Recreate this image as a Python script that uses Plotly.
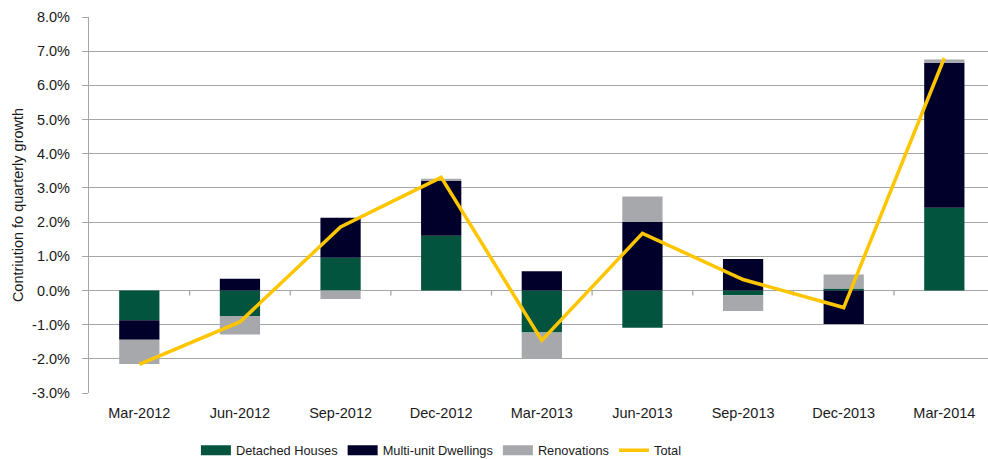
import plotly.graph_objects as go

categories = ["Mar-2012", "Jun-2012", "Sep-2012", "Dec-2012", "Mar-2013",
              "Jun-2013", "Sep-2013", "Dec-2013", "Mar-2014"]
detached = [-0.87, -0.75, 0.96, 1.60, -1.23, -1.09, -0.14, 0.06, 2.42]
multi_unit = [-0.57, 0.34, 1.17, 1.60, 0.56, 2.00, 0.92, -0.98, 4.24]
renovations = [-0.71, -0.54, -0.25, 0.07, -0.77, 0.75, -0.46, 0.41, 0.10]
total = [-2.16, -0.92, 1.86, 3.31, -1.46, 1.67, 0.32, -0.50, 6.80]
y_ticks = [-3, -2, -1, 0, 1, 2, 3, 4, 5, 6, 7, 8]

C_DET = "#03543F"
C_MULTI = "#00002A"
C_REN = "#A7A8AB"
C_TOT = "#FFC600"
GRID = "#A6A6A6"
FONT = "Liberation Sans, Arial, sans-serif"

fig = go.Figure()
for name, vals, col in [("Detached Houses", detached, C_DET),
                        ("Multi-unit Dwellings", multi_unit, C_MULTI),
                        ("Renovations", renovations, C_REN)]:
    fig.add_trace(go.Bar(x=categories, y=vals, name=name, marker_color=col,
                         marker_line_width=0, showlegend=False))
    # legend-only swatch (wide rectangle like the original)
    fig.add_trace(go.Scatter(x=[None], y=[None], mode="lines", name=name,
                             line=dict(color=col, width=10), showlegend=True))

fig.add_trace(go.Scatter(x=categories, y=total, name="Total", mode="lines",
                         line=dict(color=C_TOT, width=3.5)))

# small tick marks on the zero line between categories
for i in range(len(categories) - 1):
    fig.add_shape(type="line", xref="x", yref="y", x0=i + 0.5, x1=i + 0.5,
                  y0=0, y1=-0.15, line=dict(color=GRID, width=1.3), layer="below")

fig.update_layout(
    width=988, height=459,
    margin=dict(l=89, r=0, t=17, b=66, autoexpand=False),
    paper_bgcolor="white", plot_bgcolor="white",
    barmode="relative", bargap=0.6,
    font=dict(family=FONT, size=14, color="#1a1a1a"),
    legend=dict(orientation="h", x=0.392, xanchor="center", y=-0.153,
                yanchor="middle", font=dict(size=12.8),
                traceorder="normal", itemwidth=30, bgcolor="rgba(0,0,0,0)"),
    xaxis=dict(range=[-0.5, 8.434], showgrid=False, showline=False,
               ticks="", tickfont=dict(size=14.5), ticklabelstandoff=9,
               zeroline=False, automargin=False),
    yaxis=dict(range=[-3, 8], tickvals=y_ticks,
               ticktext=[f"{v:.1f}%" for v in y_ticks],
               showgrid=True, gridcolor=GRID, gridwidth=1.3,
               zeroline=True, zerolinecolor=GRID, zerolinewidth=1.3,
               showline=True, linecolor=GRID, linewidth=1.3,
               ticks="outside", ticklen=6, tickcolor=GRID, tickwidth=1.3,
               tickfont=dict(size=14.5), ticklabelstandoff=9, automargin=False,
               title=dict(text="Contriution fo quarterly growth",
                          font=dict(size=14.5), standoff=4)),
)

fig.write_html("out.html", config={"displayModeBar": False},
               post_script="document.body.style.margin='0';"
                           "document.body.style.overflow='hidden';")
